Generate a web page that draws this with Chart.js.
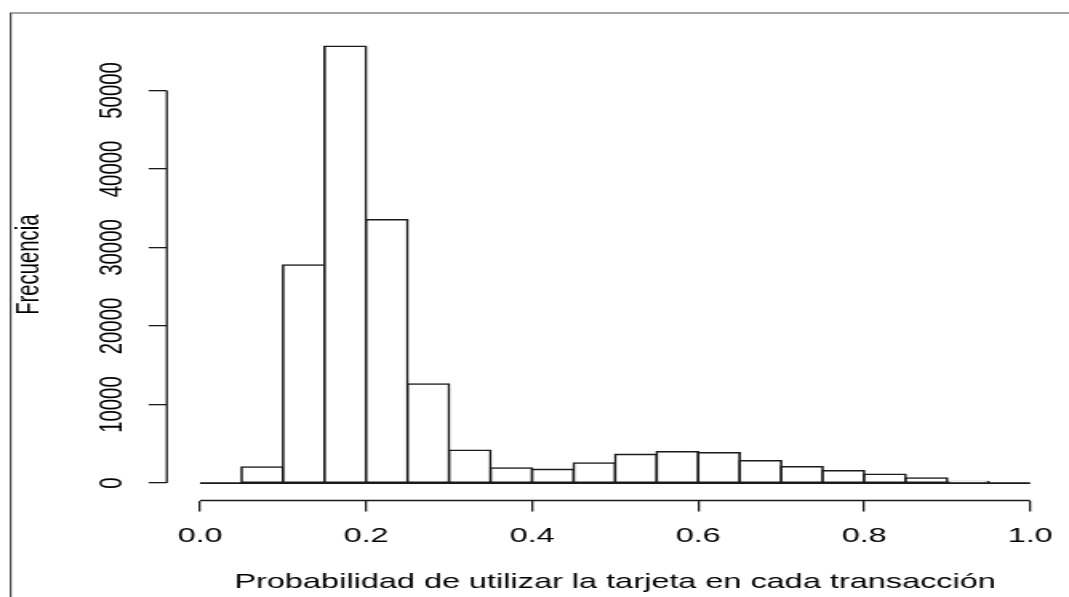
<!DOCTYPE html>
<html lang="es">
<head>
  <meta charset="UTF-8" />
  <title>Histograma – Probabilidad de utilizar la tarjeta</title>
  <script src="https://cdn.jsdelivr.net/npm/chart.js"></script>
  <style>
    html, body {
      margin: 0;
      padding: 0;
      background: #ffffff;
      overflow: hidden;
    }
    /* the original image is stretched sideways, so the canvas is too */
    #wrap {
      position: absolute;
      left: 0;
      top: 0;
      width: 668px;
      height: 597px;
      transform: scaleX(1.6003);
      transform-origin: 0 0;
    }
  </style>
</head>
<body>
<div id="wrap">
  <canvas id="hist"></canvas>
</div>

<script>
  const binEdges = [0.00, 0.05, 0.10, 0.15, 0.20, 0.25, 0.30, 0.35, 0.40, 0.45, 0.50,
                    0.55, 0.60, 0.65, 0.70, 0.75, 0.80, 0.85, 0.90, 0.95, 1.00];
  const counts = [0, 2040, 27770, 55630, 33540, 12610, 4170, 1910, 1740, 2550,
                  3650, 3990, 3860, 2840, 2080, 1570, 1110, 640, 190, 0];
  const xTicks = [0.0, 0.2, 0.4, 0.6, 0.8, 1.0];
  const yTicks = [0, 10000, 20000, 30000, 40000, 50000];
  const xTitle = 'Probabilidad de utilizar la tarjeta en cada transacción';
  const yTitle = 'Frecuencia';

  const ink = '#1a1a1a';
  Chart.defaults.font.family = "'Liberation Sans', Arial, sans-serif";
  Chart.defaults.font.size = 20.3;
  Chart.defaults.color = '#000';

  // R style: 4% extra on both ends of each axis
  const xMin = binEdges[0], xMax = binEdges[binEdges.length - 1];
  const xPad = (xMax - xMin) * 0.04;
  const yTop = Math.max(...counts);

  const bars = counts.map((c, i) => ({ x: (binEdges[i] + binEdges[i + 1]) / 2, y: c }));
  const baseline = [{ x: xMin, y: 0 }, { x: xMax, y: 0 }];

  // axis lines only run between first and last tick, plus the figure frame
  const rAxes = {
    id: 'rAxes',
    afterDraw(chart) {
      const { ctx, chartArea, scales: { x, y } } = chart;
      ctx.save();
      ctx.strokeStyle = ink;
      ctx.lineWidth = 1.3;
      ctx.beginPath();
      ctx.moveTo(x.getPixelForValue(xTicks[0]), chartArea.bottom);
      ctx.lineTo(x.getPixelForValue(xTicks[xTicks.length - 1]), chartArea.bottom);
      ctx.moveTo(chartArea.left, y.getPixelForValue(yTicks[0]));
      ctx.lineTo(chartArea.left, y.getPixelForValue(yTicks[yTicks.length - 1]));
      ctx.stroke();

      ctx.strokeStyle = '#4a4a4a';
      ctx.lineWidth = 1.2;
      ctx.beginPath();
      ctx.moveTo(6.6, chart.height);
      ctx.lineTo(6.6, 13);
      ctx.lineTo(chart.width, 13);
      ctx.stroke();
      ctx.restore();
    }
  };

  new Chart(document.getElementById('hist'), {
    type: 'bar',
    data: {
      datasets: [
        {
          type: 'line',
          data: baseline,
          borderColor: ink,
          borderWidth: 1.7,
          pointRadius: 0,
          fill: false
        },
        {
          type: 'bar',
          data: bars,
          backgroundColor: '#ffffff',
          borderColor: ink,
          borderWidth: 1.6,
          borderSkipped: false,
          inflateAmount: 0.8,
          barPercentage: 1,
          categoryPercentage: 1
        }
      ]
    },
    options: {
      responsive: true,
      maintainAspectRatio: false,
      animation: false,
      layout: { padding: { left: 0, top: 28.8, right: 3.5, bottom: 0 } },
      plugins: {
        legend: { display: false },
        tooltip: { enabled: false }
      },
      scales: {
        x: {
          type: 'linear',
          offset: false,
          bounds: 'data',
          min: xMin - xPad,
          max: xMax + xPad,
          border: { display: false },
          grid: { offset: false, drawOnChartArea: false, drawTicks: true, tickLength: 11, color: ink, lineWidth: 1.3 },
          ticks: { autoSkip: false, maxRotation: 0, padding: 12.3, color: '#000', callback: v => Number(v).toFixed(1) },
          afterBuildTicks: s => { s.ticks = xTicks.map(v => ({ value: v })); },
          afterFit: s => { s.height = 96.5; s.paddingLeft = 0; s.paddingRight = 0; },
          title: { display: true, text: xTitle, color: '#000', padding: { top: 0, bottom: 2.8 } }
        },
        y: {
          type: 'linear',
          bounds: 'data',
          min: -yTop * 0.04,
          max: yTop * 1.04,
          border: { display: false },
          grid: { drawOnChartArea: false, drawTicks: true, tickLength: 11.4, color: ink, lineWidth: 1.3 },
          ticks: { autoSkip: false, minRotation: 90, maxRotation: 90, crossAlign: 'center', padding: -5.5, color: '#000', callback: v => String(v) },
          afterBuildTicks: s => { s.ticks = yTicks.map(v => ({ value: v })); },
          afterFit: s => { s.width = 104.25; s.paddingTop = 0; s.paddingBottom = 0; },
          title: { display: true, text: yTitle, color: '#000', padding: { top: 6.5, bottom: 0 } }
        }
      }
    },
    plugins: [rAxes]
  });
</script>
</body>
</html>
